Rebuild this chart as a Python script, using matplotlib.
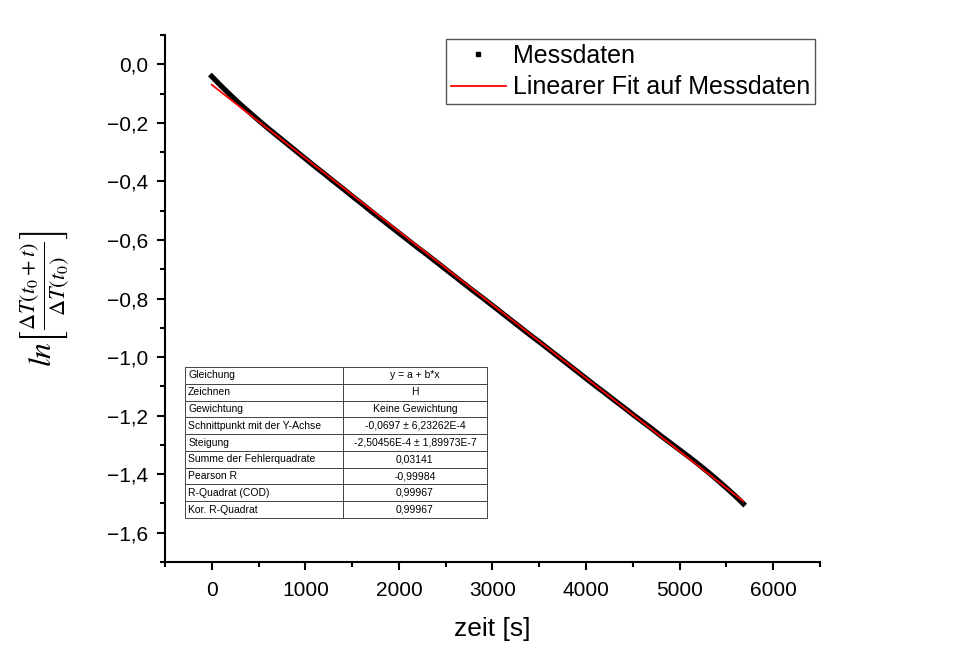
import numpy as np
import matplotlib
matplotlib.use("Agg")
import matplotlib.pyplot as plt
from matplotlib.ticker import MultipleLocator, FuncFormatter
from matplotlib.lines import Line2D

plt.rcParams["font.family"] = ["Liberation Sans", "DejaVu Sans"]
plt.rcParams["mathtext.fontset"] = "stix"

zeit = [0, 100, 200, 300, 400, 500, 600, 700, 800, 900,
        1000, 1100, 1200, 1300, 1400, 1500, 1600, 1700, 1800, 1900,
        2000, 2100, 2200, 2300, 2400, 2500, 2600, 2700, 2800, 2900,
        3000, 3100, 3200, 3300, 3400, 3500, 3600, 3700, 3800, 3900,
        4000, 4100, 4200, 4300, 4400, 4500, 4600, 4700, 4800, 4900,
        5000, 5100, 5200, 5300, 5400, 5500, 5600, 5680]
ln_ratio = [-0.041, -0.074, -0.105, -0.135, -0.163, -0.191, -0.218, -0.244, -0.270, -0.296,
            -0.322, -0.348, -0.373, -0.399, -0.424, -0.450, -0.475, -0.501, -0.526, -0.551,
            -0.576, -0.601, -0.626, -0.650, -0.675, -0.700, -0.725, -0.750, -0.775, -0.799,
            -0.824, -0.849, -0.874, -0.899, -0.924, -0.948, -0.973, -0.998, -1.023, -1.048,
            -1.073, -1.098, -1.122, -1.147, -1.171, -1.196, -1.220, -1.244, -1.269, -1.293,
            -1.317, -1.341, -1.366, -1.392, -1.419, -1.447, -1.476, -1.501]

# Fitparameter
a = -0.0697
b = -2.50456e-4

table_rows = [
    ["Gleichung", "y = a + b*x"],
    ["Zeichnen", "H"],
    ["Gewichtung", "Keine Gewichtung"],
    ["Schnittpunkt mit der Y-Achse", "-0,0697 \u00b1 6,23262E-4"],
    ["Steigung", "-2,50456E-4 \u00b1 1,89973E-7"],
    ["Summe der Fehlerquadrate", "0,03141"],
    ["Pearson R", "-0,99984"],
    ["R-Quadrat (COD)", "0,99967"],
    ["Kor. R-Quadrat", "0,99967"],
]

fig = plt.figure(figsize=(9.67, 6.5), dpi=100)
ax = fig.add_axes([0.1706, 0.1354, 0.6774, 0.8106])

# dichte Messpunkte -> dickes schwarzes Band
ax.plot(zeit, ln_ratio, color="black", lw=3.8, solid_capstyle="projecting", zorder=2)

fit_x = np.array([zeit[0], zeit[-1]])
ax.plot(fit_x, a + b * fit_x, color="red", lw=1.3, zorder=3)

ax.set_xlim(-500, 6500)
ax.set_ylim(-1.7, 0.1)
ax.xaxis.set_major_locator(MultipleLocator(1000))
ax.xaxis.set_minor_locator(MultipleLocator(500))
ax.yaxis.set_major_locator(MultipleLocator(0.2))
ax.yaxis.set_minor_locator(MultipleLocator(0.1))


def fmt_y(v, pos):
    s = "%.1f" % v
    if s == "-0.0":
        s = "0.0"
    return s.replace(".", ",").replace("-", "\u2212")


ax.yaxis.set_major_formatter(FuncFormatter(fmt_y))
ax.xaxis.set_major_formatter(FuncFormatter(lambda v, p: "%d" % v))

for side in ["top", "right"]:
    ax.spines[side].set_visible(False)
for side in ["left", "bottom"]:
    ax.spines[side].set_linewidth(1.5)
ax.tick_params(which="major", direction="out", length=6, width=1.5, labelsize=15)
ax.tick_params(axis="x", which="major", pad=8)
ax.tick_params(axis="y", which="major", pad=6)
ax.tick_params(which="minor", direction="out", length=3.5, width=1.5)

ax.set_xlabel("zeit [s]", fontsize=19, labelpad=12)
ax.set_ylabel(r"$ln\left[\frac{\Delta T(t_0+t)}{\Delta T(t_0)}\right]$", fontsize=23, labelpad=26)

handles = [
    Line2D([], [], ls="none", marker="s", ms=3.5, color="black"),
    Line2D([], [], color="red", lw=1.3),
]
leg = ax.legend(handles, ["Messdaten", "Linearer Fit auf Messdaten"],
                loc="upper right", bbox_to_anchor=(0.993, 0.993), fontsize=18,
                fancybox=False, edgecolor="#555555", framealpha=1,
                handlelength=2.2, handletextpad=0.3, borderpad=0.2,
                labelspacing=0.3, borderaxespad=0.0)
leg.get_frame().set_linewidth(1.0)

tbl = ax.table(cellText=table_rows, colWidths=[0.523, 0.477],
               bbox=[0.0305, 0.0835, 0.461, 0.2865], cellLoc="left")
tbl.auto_set_font_size(False)
tbl.set_fontsize(7.5)
for (r, c), cell in tbl.get_celld().items():
    cell.set_linewidth(0.7)
    cell.set_edgecolor("#444444")
    if c == 1:
        cell.get_text().set_horizontalalignment("center")
        cell._loc = "center"
    else:
        cell.PAD = 0.02

fig.savefig("out.png", dpi=100)
